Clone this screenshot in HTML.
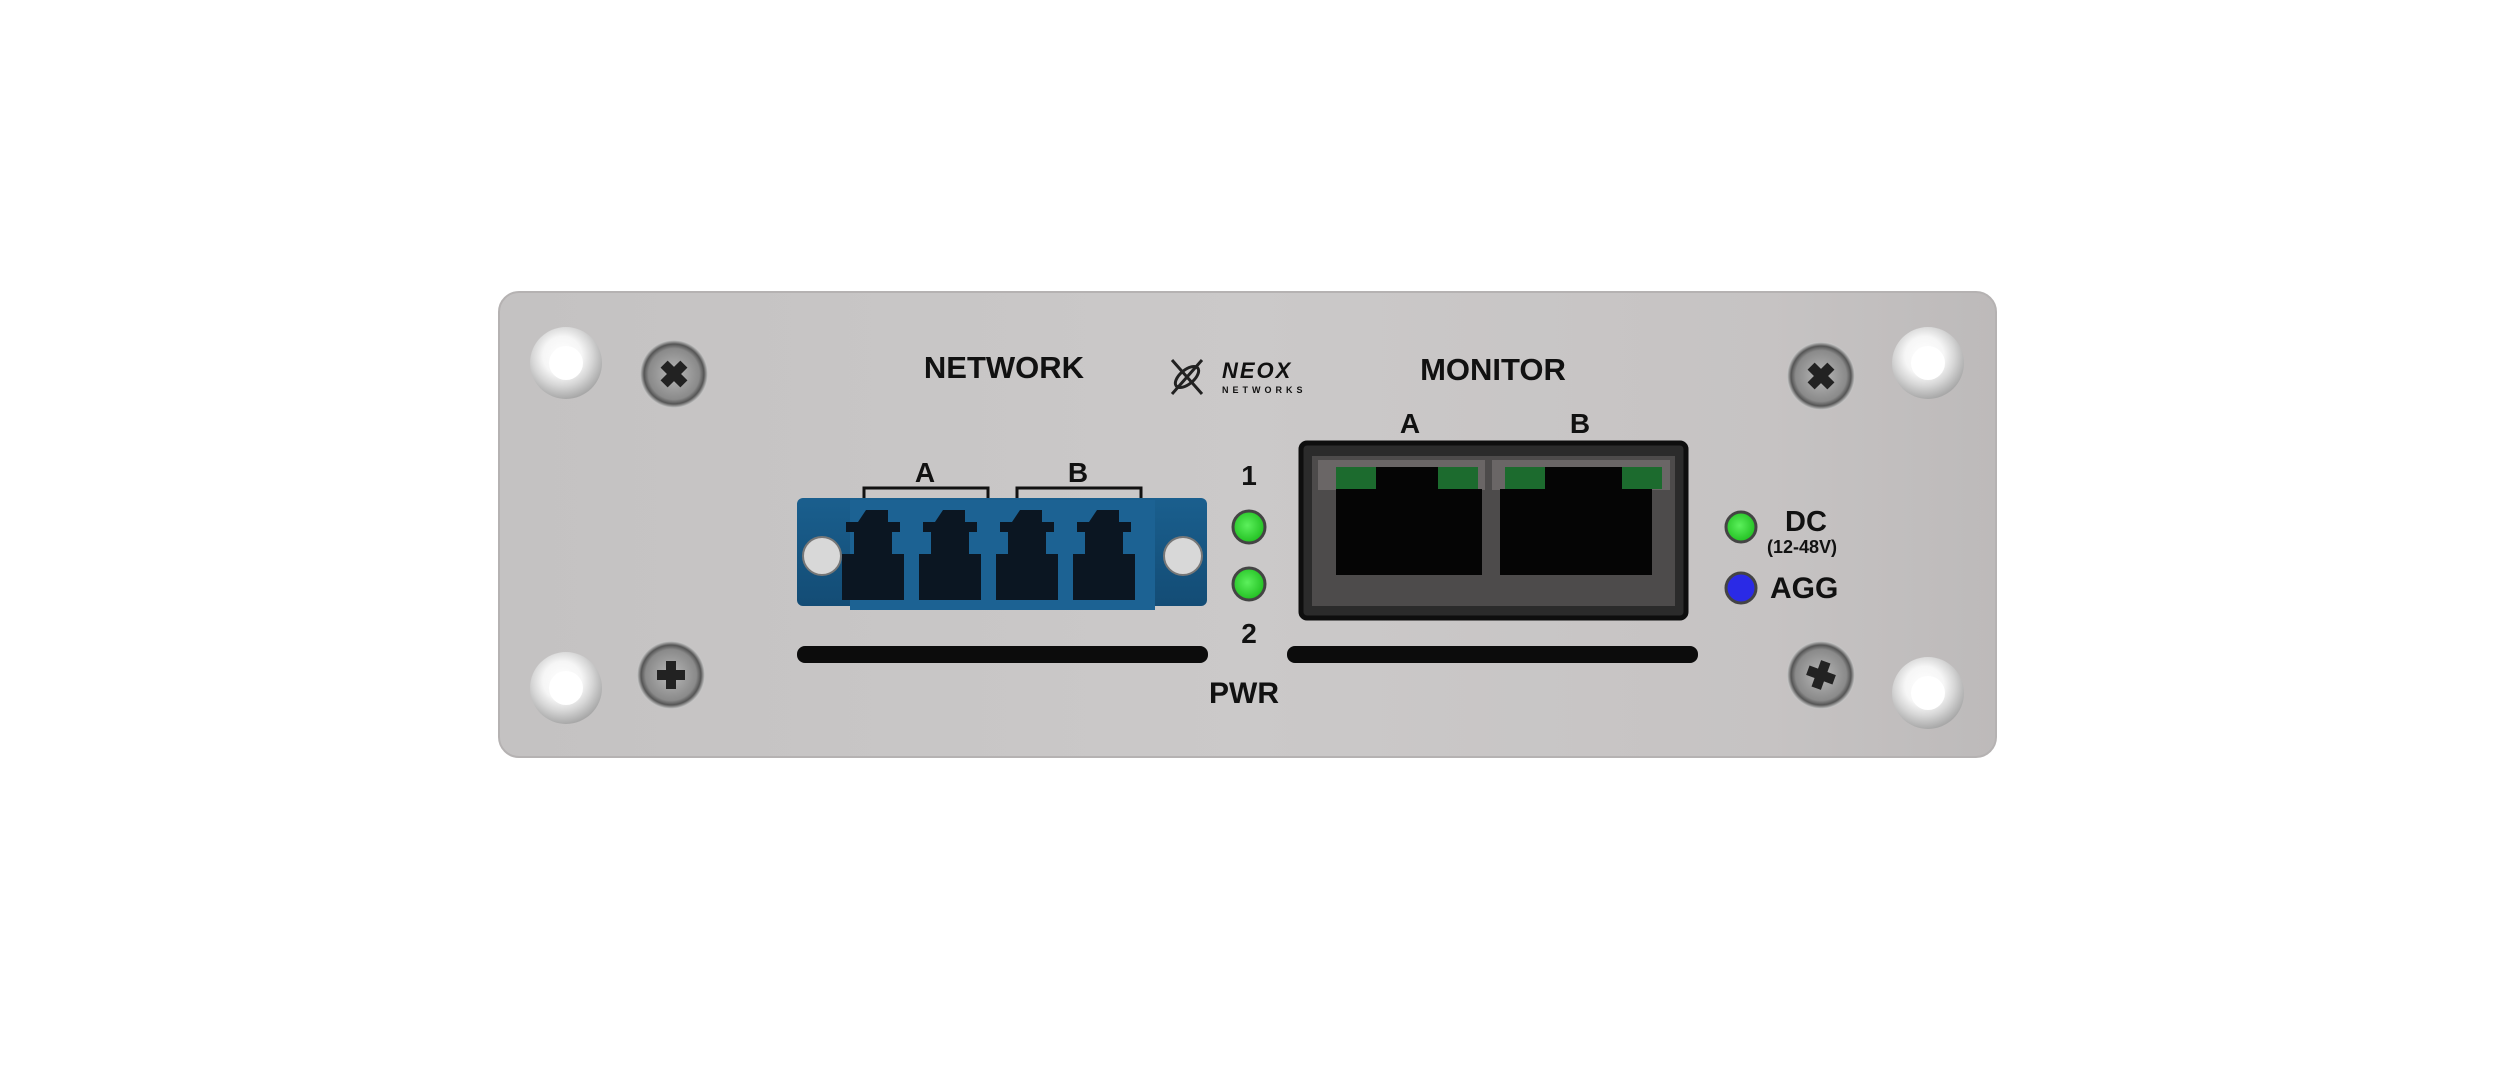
<!DOCTYPE html>
<html><head><meta charset="utf-8"><style>
html,body{margin:0;padding:0;background:#fff;}
svg{display:block;}
text{font-family:"Liberation Sans",Arial,sans-serif;font-weight:bold;fill:#111;}
</style></head><body>
<svg width="2498" height="1082" viewBox="0 0 2498 1082" xmlns="http://www.w3.org/2000/svg">
<defs>
<linearGradient id="panel" x1="0" y1="0" x2="1" y2="0">
<stop offset="0" stop-color="#c4c2c2"/><stop offset="0.5" stop-color="#cbc9c9"/><stop offset="0.85" stop-color="#c6c3c3"/><stop offset="1" stop-color="#bdbaba"/>
</linearGradient>
<radialGradient id="hole" cx="0.45" cy="0.4" r="0.6"><stop offset="0" stop-color="#fff"/><stop offset="0.45" stop-color="#f6f6f6"/><stop offset="0.7" stop-color="#d6d6d6"/><stop offset="1" stop-color="#a8a8a8"/></radialGradient>
<radialGradient id="screw" cx="0.5" cy="0.5" r="0.5"><stop offset="0" stop-color="#b8b8b8"/><stop offset="0.75" stop-color="#8a8a8a"/><stop offset="0.88" stop-color="#555"/><stop offset="1" stop-color="#ccc"/></radialGradient>
<radialGradient id="led" cx="0.45" cy="0.45" r="0.55"><stop offset="0" stop-color="#5cf05c"/><stop offset="1" stop-color="#22c022"/></radialGradient>
<linearGradient id="blue" x1="0" y1="0" x2="0" y2="1"><stop offset="0" stop-color="#1a5f8e"/><stop offset="1" stop-color="#134c75"/></linearGradient>
<g id="crossA"><path d="M-5,-14 h10 v9 h9 v10 h-9 v9 h-10 v-9 h-9 v-10 h9z" fill="#222"/></g>
<path id="lc" d="M0,0 h22 v12 h12 v10 h-8 v22 h12 v46 h-62 v-46 h12 v-22 h-8 v-10 h12z" fill="#0b1622"/>
</defs>
<rect x="499" y="292" width="1497" height="465" rx="20" fill="url(#panel)" stroke="#b5b2b2" stroke-width="2"/>
<g>
<circle cx="566" cy="363" r="36" fill="url(#hole)"/><circle cx="566" cy="688" r="36" fill="url(#hole)"/>
<circle cx="1928" cy="363" r="36" fill="url(#hole)"/><circle cx="1928" cy="693" r="36" fill="url(#hole)"/>
<circle cx="566" cy="363" r="17" fill="#fff"/><circle cx="566" cy="688" r="17" fill="#fff"/>
<circle cx="1928" cy="363" r="17" fill="#fff"/><circle cx="1928" cy="693" r="17" fill="#fff"/>
</g>
<g>
<circle cx="674" cy="374" r="34" fill="url(#screw)"/><use href="#crossA" transform="translate(674,374) rotate(45)"/>
<circle cx="671" cy="675" r="34" fill="url(#screw)"/><use href="#crossA" transform="translate(671,675)"/>
<circle cx="1821" cy="376" r="34" fill="url(#screw)"/><use href="#crossA" transform="translate(1821,376) rotate(45)"/>
<circle cx="1821" cy="675" r="34" fill="url(#screw)"/><use href="#crossA" transform="translate(1821,675) rotate(20)"/>
</g>
<text x="1004" y="378" font-size="31" text-anchor="middle">NETWORK</text>
<text x="1493" y="380" font-size="31" text-anchor="middle">MONITOR</text>
<g stroke="#222" stroke-width="3" fill="none">
<path d="M1172,360 L1202,394 M1202,360 L1172,394"/><ellipse cx="1187" cy="377" rx="14" ry="7" transform="rotate(-40 1187 377)"/>
</g>
<text x="1222" y="378" font-size="22" font-style="italic" letter-spacing="2">NEOX</text>
<text x="1222" y="393" font-size="9" letter-spacing="4">NETWORKS</text>
<text x="925" y="482" font-size="28" text-anchor="middle">A</text>
<text x="1078" y="482" font-size="28" text-anchor="middle">B</text>
<path d="M864,498 v-10 h124 v10 M1017,498 v-10 h124 v10" stroke="#111" stroke-width="3" fill="none"/>
<rect x="797" y="498" width="410" height="108" rx="6" fill="url(#blue)"/>
<rect x="850" y="500" width="305" height="110" fill="#1c6293"/>
<use href="#lc" x="866" y="510"/>
<use href="#lc" x="943" y="510"/>
<use href="#lc" x="1020" y="510"/>
<use href="#lc" x="1097" y="510"/>
<circle cx="822" cy="556" r="19" fill="#d8d8d8" stroke="#777" stroke-width="2"/>
<circle cx="1183" cy="556" r="19" fill="#d8d8d8" stroke="#777" stroke-width="2"/>
<text x="1249" y="485" font-size="28" text-anchor="middle">1</text>
<circle cx="1249" cy="527" r="16" fill="url(#led)" stroke="#444" stroke-width="3"/>
<circle cx="1249" cy="584" r="16" fill="url(#led)" stroke="#444" stroke-width="3"/>
<text x="1249" y="643" font-size="28" text-anchor="middle">2</text>
<text x="1244" y="703" font-size="30" text-anchor="middle">PWR</text>
<rect x="797" y="646" width="411" height="17" rx="8" fill="#0c0c0c"/>
<rect x="1287" y="646" width="411" height="17" rx="8" fill="#0c0c0c"/>
<text x="1410" y="433" font-size="28" text-anchor="middle">A</text>
<text x="1580" y="433" font-size="28" text-anchor="middle">B</text>
<rect x="1301" y="443" width="385" height="175" rx="6" fill="#2b2b2b" stroke="#0e0e0e" stroke-width="5"/>
<rect x="1312" y="456" width="363" height="150" fill="#4d4b4b"/>
<rect x="1318" y="460" width="167" height="30" fill="#6a6666"/>
<rect x="1492" y="460" width="178" height="30" fill="#6a6666"/>
<rect x="1336" y="467" width="40" height="22" fill="#1c6b2e"/><rect x="1438" y="467" width="40" height="22" fill="#1c6b2e"/>
<rect x="1505" y="467" width="40" height="22" fill="#1c6b2e"/><rect x="1622" y="467" width="40" height="22" fill="#1c6b2e"/>
<rect x="1336" y="489" width="146" height="86" fill="#050505"/>
<rect x="1500" y="489" width="152" height="86" fill="#050505"/>
<rect x="1376" y="467" width="62" height="22" fill="#050505"/>
<rect x="1545" y="467" width="77" height="22" fill="#050505"/>
<circle cx="1741" cy="527" r="15" fill="url(#led)" stroke="#444" stroke-width="3"/>
<circle cx="1741" cy="588" r="15" fill="#2a2ae6" stroke="#444" stroke-width="3"/>
<text x="1785" y="531" font-size="29">DC</text>
<text x="1767" y="553" font-size="18">(12-48V)</text>
<text x="1770" y="598" font-size="30">AGG</text>
</svg>
</body></html>
